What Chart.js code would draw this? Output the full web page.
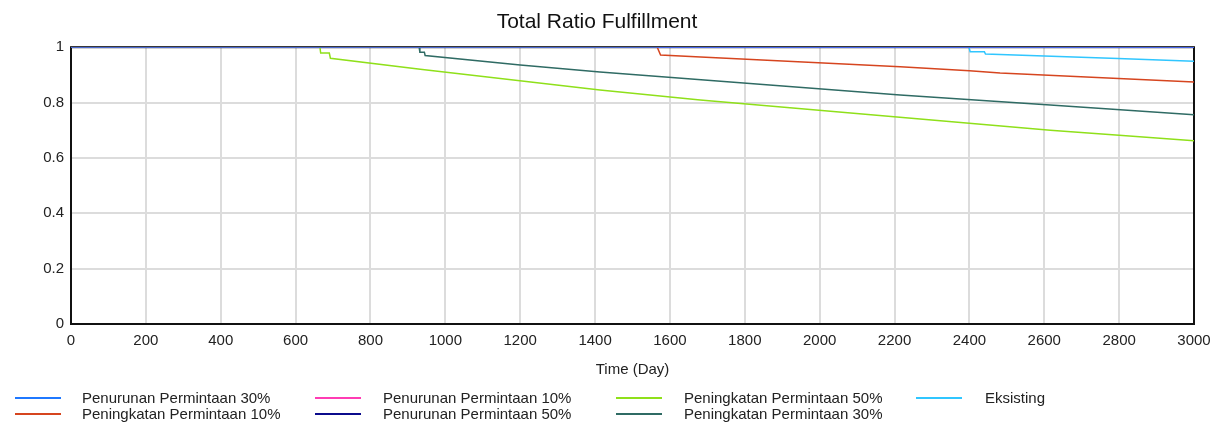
<!DOCTYPE html>
<html>
<head>
<meta charset="utf-8">
<script src="https://cdn.jsdelivr.net/npm/chart.js@4"></script>
<style>
  html, body { margin: 0; padding: 0; background: #fff; }
  #wrap { position: relative; width: 1213px; height: 423px; font-family: "Liberation Sans", Arial, sans-serif; }
  .swatch { position: absolute; height: 2px; }
  .label { position: absolute; font-size: 15px; color: #222; white-space: nowrap; line-height: 16px; }
</style>
</head>
<body>
<div id="wrap">
  <canvas id="chart" width="1213" height="423"></canvas>
  <div id="legend"></div>
</div>
<script>
const FONT = '"Liberation Sans", Arial, sans-serif';

// values (Time in days, ratio 0..1)
const flatDays = [0, 3000];
const flatRatio = [1, 1];

const inc10Days  = [0, 1566, 1575, 1682, 2215, 2400, 2482, 3000];
const inc10Ratio = [1, 1, 0.972, 0.965, 0.929, 0.915, 0.907, 0.874];

const inc50Days  = [0, 665, 667, 690, 693, 933, 1413, 1681, 2616, 2800, 3000];
const inc50Ratio = [1, 1, 0.979, 0.979, 0.960, 0.920, 0.845, 0.809, 0.700, 0.682, 0.662];

const inc30Days  = [0, 930, 932, 944, 946, 1200, 1413, 2215, 2616, 3000];
const inc30Ratio = [1, 1, 0.982, 0.982, 0.970, 0.936, 0.910, 0.827, 0.791, 0.756];

const existDays  = [0, 2399, 2402, 2440, 2443, 2797, 3000];
const existRatio = [1, 1, 0.984, 0.984, 0.975, 0.959, 0.949];

// legend order (column by column)
const seriesNames = [
  "Penurunan Permintaan 30%",
  "Peningkatan Permintaan 10%",
  "Penurunan Permintaan 10%",
  "Penurunan Permintaan 50%",
  "Peningkatan Permintaan 50%",
  "Peningkatan Permintaan 30%",
  "Eksisting"
];
const seriesColors = ["#1f78ff", "#d6451f", "#ff3cb4", "#0b0b8c", "#8fe01a", "#2f6b64", "#30c6ff"];
const seriesDays  = [flatDays, inc10Days, flatDays, flatDays, inc50Days, inc30Days, existDays];
const seriesRatio = [flatRatio, inc10Ratio, flatRatio, flatRatio, inc50Ratio, inc30Ratio, existRatio];

const toPoints = (days, vals) => days.map((d, i) => ({ x: d, y: vals[i] }));

const datasets = seriesNames.map((name, i) => ({
  label: name,
  data: toPoints(seriesDays[i], seriesRatio[i]),
  borderColor: seriesColors[i],
  borderWidth: 1.5,
  pointRadius: 0,
  tension: 0,
  fill: false,
}));

const framePlugin = {
  id: "frame",
  beforeDatasetsDraw(chart) {
    const { ctx, chartArea: a } = chart;
    ctx.save();
    ctx.strokeStyle = "#111";
    ctx.lineWidth = 2;
    ctx.strokeRect(a.left, a.top, a.right - a.left, a.bottom - a.top);
    ctx.restore();
  }
};

new Chart(document.getElementById("chart"), {
  type: "line",
  data: { datasets },
  plugins: [framePlugin],
  options: {
    responsive: false,
    animation: false,
    layout: { padding: { left: 0, right: 19, top: 0, bottom: 43 } },
    plugins: {
      legend: { display: false },
      tooltip: { enabled: false },
      title: {
        display: true,
        text: "Total Ratio Fulfillment",
        color: "#111",
        font: { family: FONT, size: 21, weight: "normal" },
        padding: { top: 10, bottom: 12 },
      },
    },
    scales: {
      x: {
        type: "linear",
        min: 0,
        max: 3000,
        afterFit: s => { s.height = 56; s.paddingLeft = 0; s.paddingRight = 0; },
        border: { display: false },
        grid: { color: "#dcdcdc", lineWidth: 2, drawTicks: false },
        ticks: {
          stepSize: 200, color: "#222", padding: 8, maxRotation: 0, autoSkip: false,
          font: { family: FONT, size: 15 },
          callback: v => String(v),
        },
        title: { display: true, text: "Time (Day)", color: "#222", font: { family: FONT, size: 15 }, padding: { top: 0, bottom: 1 } },
      },
      y: {
        min: 0,
        max: 1,
        afterFit: s => { s.width = 71; },
        border: { display: false },
        grid: { color: "#dcdcdc", lineWidth: 2, drawTicks: false },
        ticks: {
          stepSize: 0.2, color: "#222", padding: 7,
          font: { family: FONT, size: 15 },
          callback: v => String(Math.round(v * 10) / 10),
        },
      },
    },
  },
});

// legend drawn as html, 4 columns x 2 rows
const legend = document.getElementById("legend");
const colLine = [15, 315, 616, 916];
const colText = [82, 383, 684, 985];
const rowY = [398, 414];
seriesNames.forEach((name, i) => {
  const col = Math.floor(i / 2), row = i % 2;
  const sw = document.createElement("div");
  sw.className = "swatch";
  sw.style.left = colLine[col] + "px";
  sw.style.width = "46px";
  sw.style.top = (rowY[row] - 1) + "px";
  sw.style.background = seriesColors[i];
  legend.appendChild(sw);
  const lb = document.createElement("div");
  lb.className = "label";
  lb.style.left = colText[col] + "px";
  lb.style.top = (rowY[row] - 8) + "px";
  lb.textContent = name;
  legend.appendChild(lb);
});
</script>
</body>
</html>
